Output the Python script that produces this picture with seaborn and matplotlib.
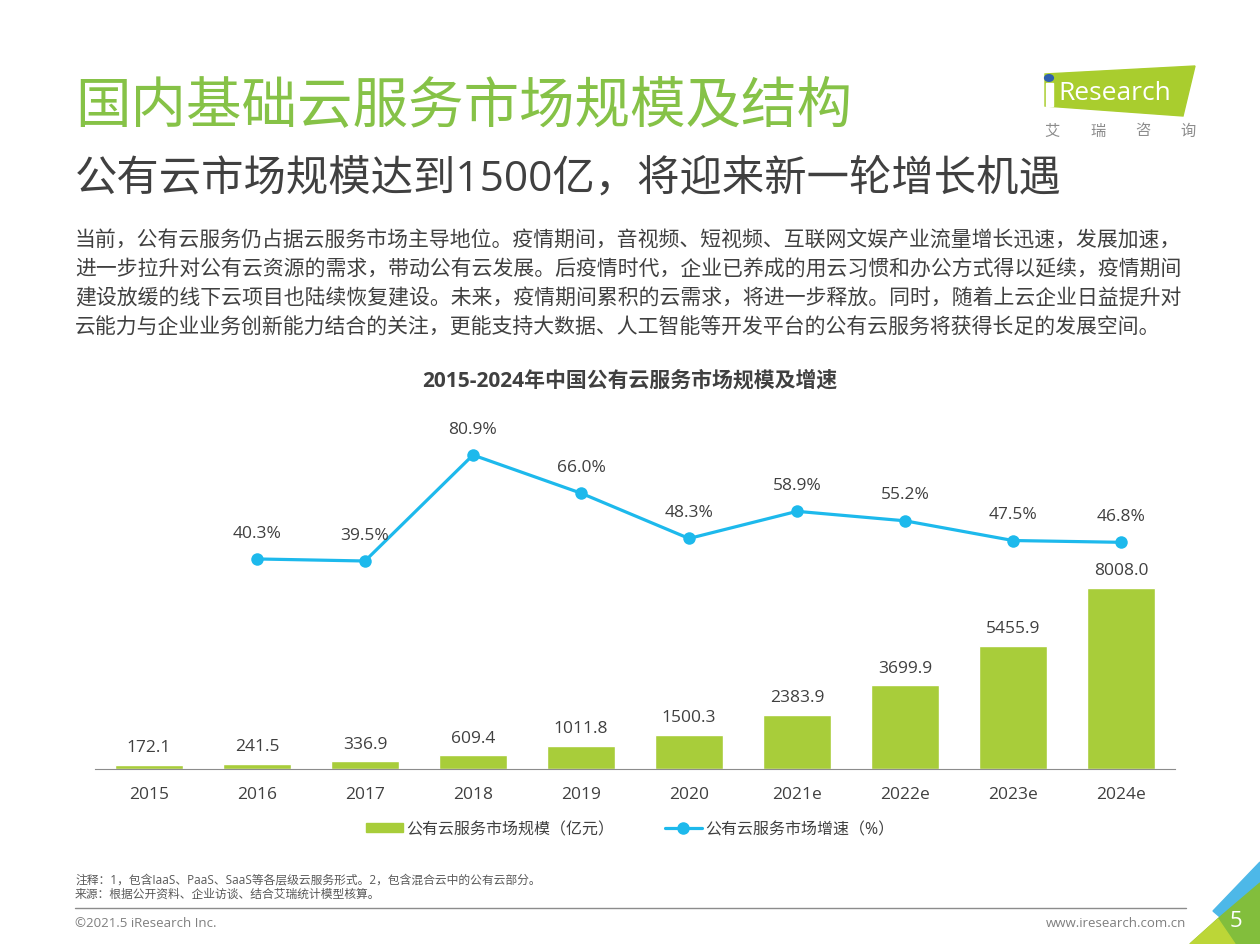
import numpy as np
import pandas as pd
import matplotlib
matplotlib.use('Agg')
import matplotlib.pyplot as plt
import seaborn as sns
from matplotlib.patches import Polygon, Patch, Circle
from matplotlib.lines import Line2D

sns.set_style('white')
plt.rcParams['font.family'] = ['Open Sans', 'Noto Sans CJK SC', 'DejaVu Sans']

# data
years = ['2015', '2016', '2017', '2018', '2019', '2020', '2021e', '2022e', '2023e', '2024e']
scale = [172.1, 241.5, 336.9, 609.4, 1011.8, 1500.3, 2383.9, 3699.9, 5455.9, 8008.0]
growth = [np.nan, 40.3, 39.5, 80.9, 66.0, 48.3, 58.9, 55.2, 47.5, 46.8]

title = '国内基础云服务市场规模及结构'
subtitle = '公有云市场规模达到1500亿，将迎来新一轮增长机遇'
para = ['当前，公有云服务仍占据云服务市场主导地位。疫情期间，音视频、短视频、互联网文娱产业流量增长迅速，发展加速，',
        '进一步拉升对公有云资源的需求，带动公有云发展。后疫情时代，企业已养成的用云习惯和办公方式得以延续，疫情期间',
        '建设放缓的线下云项目也陆续恢复建设。未来，疫情期间累积的云需求，将进一步释放。同时，随着上云企业日益提升对',
        '云能力与企业业务创新能力结合的关注，更能支持大数据、人工智能等开发平台的公有云服务将获得长足的发展空间。']
chart_title = '2015-2024年中国公有云服务市场规模及增速'
bar_name = '公有云服务市场规模（亿元）'
line_name = '公有云服务市场增速（%）'
notes = ['注释：1，包含IaaS、PaaS、SaaS等各层级云服务形式。2，包含混合云中的公有云部分。',
         '来源：根据公开资料、企业访谈、结合艾瑞统计模型核算。']

GREEN = '#A8CD3A'
BLUE = '#1DB9EC'
TXT = '#404040'

df = pd.DataFrame({'year': years, 'scale': scale, 'growth': growth})
df['pos'] = np.arange(len(df))

W, H = 1260, 945
fig = plt.figure(figsize=(12.6, 9.45), dpi=100)

def fx(x):
    return x / W

def fy(y):
    return 1 - y / H

# header
fig.text(fx(75), fy(108), title, fontsize=40, color='#86C247', va='center', ha='left')
fig.text(fx(75), fy(180), subtitle, fontsize=30.5, color=TXT, va='center', ha='left')
for i, line in enumerate(para):
    fig.text(fx(75), fy(241 + 29 * i), line, fontsize=15, color=TXT, va='center', ha='left')

# logo
fig.add_artist(Polygon([(fx(1045), fy(75)), (fx(1195), fy(67)), (fx(1183), fy(117)), (fx(1045), fy(107))],
                       closed=True, color='#A9CD2E', transform=fig.transFigure))
fig.text(fx(1058), fy(94), 'Research', fontsize=19, color='white', va='center', ha='left')
fig.add_artist(Polygon([(fx(1046), fy(84)), (fx(1053), fy(84)), (fx(1053), fy(107)), (fx(1046), fy(107))],
                       closed=True, color='white', transform=fig.transFigure))
fig.add_artist(Circle((fx(1049), fy(79)), 0.0035, color='#2F5FAE', transform=fig.transFigure))
for ch, x in zip('艾瑞咨询', [1052, 1098, 1143, 1188]):
    fig.text(fx(x), fy(132), ch, fontsize=11, color='#8C8C8C', va='center', ha='center')

fig.text(fx(630), fy(381), chart_title, fontsize=15, fontweight='bold', color=TXT, va='center', ha='center')

# chart
ax = fig.add_axes([fx(95), fy(770), fx(1175 - 95), 350 / H])
sns.barplot(data=df, x='year', y='scale', color=GREEN, saturation=1, width=0.63, ax=ax)
ax.set_ylim(0, 15485)
ax.bar_label(ax.containers[0], labels=[f'{v:.1f}' for v in scale], padding=7, fontsize=12.5, color=TXT)

ax2 = ax.twinx()
sns.lineplot(data=df.dropna(), x='pos', y='growth', ax=ax2, color=BLUE, lw=2.3,
             marker='o', markersize=9, markeredgewidth=0)
ax2.set_ylim(-41.75, 94.97)
for p, g in zip(df['pos'], df['growth']):
    if not np.isnan(g):
        ax2.annotate(f'{g:.1f}%', (p, g), xytext=(0, 19), textcoords='offset points',
                     ha='center', va='center', fontsize=12.5, color=TXT)

ax.set_xlim(-0.5, len(years) - 0.5)
for a in (ax, ax2):
    a.set_xlabel('')
    a.set_ylabel('')
    a.set_yticks([])
    for s in ('top', 'right', 'left'):
        a.spines[s].set_visible(False)
ax2.spines['bottom'].set_visible(False)
ax.spines['bottom'].set_color('#8C8C8C')
ax.tick_params(axis='x', length=0, labelsize=12.5, labelcolor=TXT, pad=12)

handles = [Patch(color=GREEN), Line2D([], [], color=BLUE, lw=2.3, marker='o', markersize=8)]
fig.legend(handles, [bar_name, line_name], loc='center', bbox_to_anchor=(0.5, fy(830)), ncol=2,
           frameon=False, fontsize=11.5, handlelength=2.3, handleheight=0.55, handletextpad=0.2,
           columnspacing=3.2, labelcolor=TXT)

# footer
for i, n in enumerate(notes):
    fig.text(fx(75), fy(880 + 14 * i), n, fontsize=8.5, color='#595959', va='center', ha='left')
fig.add_artist(Line2D([fx(75), fx(1186)], [fy(909), fy(909)], color='#8C8C8C', lw=1))
fig.text(fx(75), fy(924), '©2021.5 iResearch Inc.', fontsize=9.5, color='#7F7F7F', va='center', ha='left')
fig.text(fx(1186), fy(924), 'www.iresearch.com.cn', fontsize=9.5, color='#7F7F7F', va='center', ha='right')
fig.add_artist(Polygon([(fx(1213), fy(912)), (fx(1260), fy(863)), (fx(1260), fy(884)), (fx(1220), fy(918))],
                       closed=True, color='#4DB8E8', transform=fig.transFigure))
fig.add_artist(Polygon([(fx(1220), fy(918)), (fx(1260), fy(884)), (fx(1260), fy(945)), (fx(1190), fy(945))],
                       closed=True, color='#82BE3C', transform=fig.transFigure))
fig.add_artist(Polygon([(fx(1190), fy(945)), (fx(1218), fy(920)), (fx(1235), fy(945))],
                       closed=True, color='#BCD637', transform=fig.transFigure))
fig.text(fx(1236), fy(922), '5', fontsize=16, color='white', va='center', ha='center')

fig.savefig('out.png', dpi=100)
